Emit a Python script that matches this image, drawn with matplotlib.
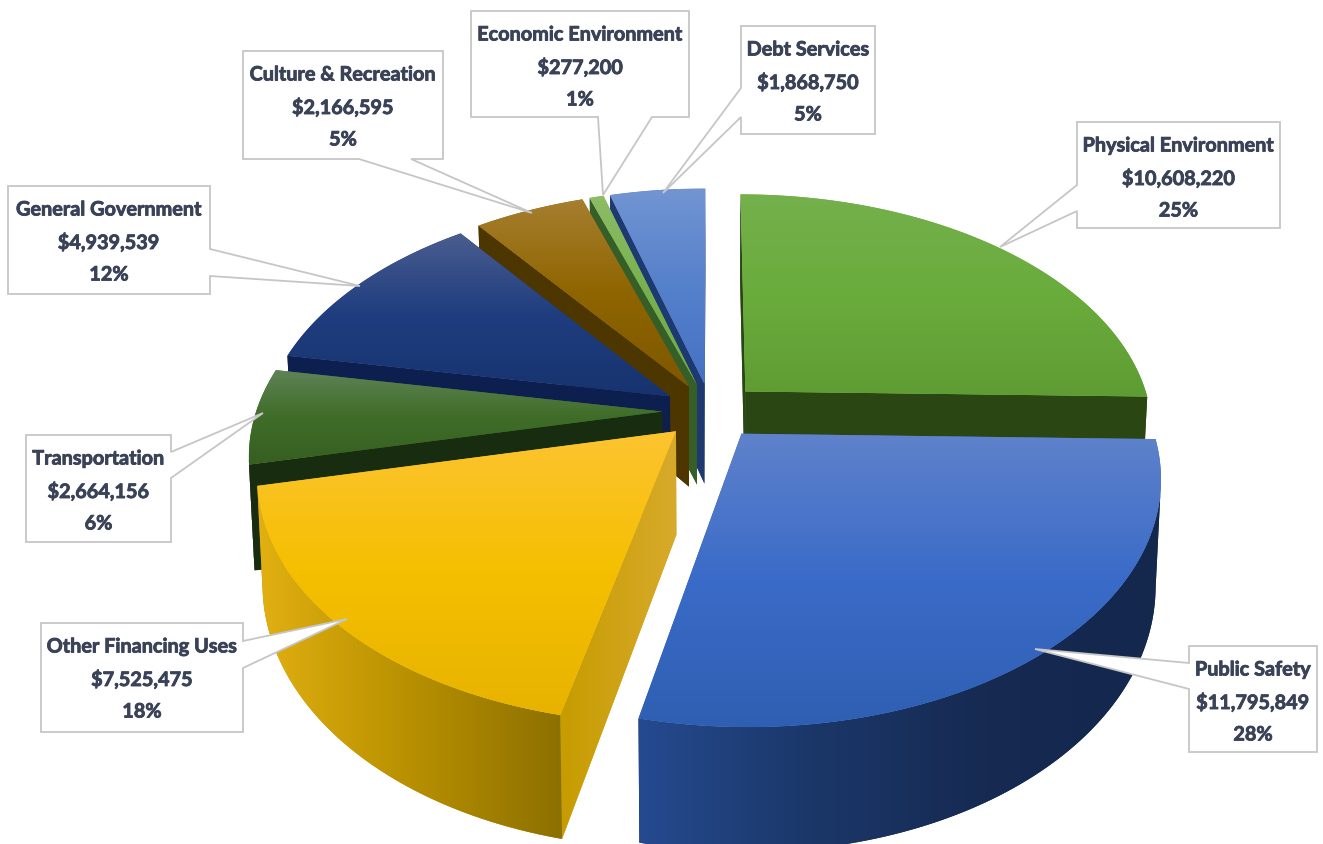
import numpy as np
import matplotlib
matplotlib.use("Agg")
import matplotlib.pyplot as plt
import matplotlib.patheffects as pe
from matplotlib.colors import LinearSegmentedColormap
from matplotlib.patches import Polygon

# Budget figures, clockwise from twelve o'clock
categories = ["Physical Environment", "Public Safety", "Other Financing Uses", "Transportation",
              "General Government", "Culture & Recreation", "Economic Environment", "Debt Services"]
amounts = [10608220, 11795849, 7525475, 2664156, 4939539, 2166595, 277200, 1868750]
percents = [25, 28, 18, 6, 12, 5, 1, 5]

# Surface colours per slice: top runs top to bottom, wall and cut run left to right
top_colors = [["#74b04c", "#6aac3c", "#5f9c34"], ["#5f82cb", "#3a6bc8", "#2f5fb2"],
              ["#fdc431", "#f5bf00", "#e8b300"], ["#5f8257", "#3f6d28", "#365f22"],
              ["#4a5d8f", "#1f3d7f", "#17336f"], ["#a67f30", "#8f6500", "#7e5800"],
              ["#8dbd66", "#78b04f", "#70ad47"], ["#7295d2", "#5580cb", "#4472c4"]]
wall_colors = [["#2a4613", "#2a4613"], ["#254a8f", "#1b3769", "#162a52", "#14274d"],
               ["#e2b012", "#b89000", "#8c7000"], ["#182d10", "#182d10"], ["#0d1f4f", "#0d1f4f"],
               ["#4d3600", "#4d3600"], ["#365f28", "#365f28"], ["#1e3a70", "#1e3a70"]]
cut_colors = [["#2a4613", "#2a4613"], ["#1d3a78", "#1d3a78"], ["#c69c00", "#d8aa2c"],
              ["#182d10", "#182d10"], ["#0d1f4f", "#0d1f4f"], ["#4d3600", "#4d3600"],
              ["#365f28", "#365f28"], ["#1e3a70", "#1e3a70"]]

# Callout boxes: (left, top, right, bottom), side, pointer base a, pointer base b, tip
callouts = [
    ((1077, 122, 1280, 228), "left", 185, 211, (1000, 247)),
    ((1189, 646, 1317, 752), "left", 663, 689, (1035, 649)),
    ((41, 623, 243, 732), "right", 641, 668, (347, 619)),
    ((26, 435, 171, 542), "right", 452, 478, (263, 413)),
    ((8, 186, 210, 294), "right", 249, 276, (360, 286)),
    ((243, 51, 443, 159), "bottom", 359, 411, (532, 213)),
    ((471, 11, 689, 117), "bottom", 598, 652, (603, 195)),
    ((741, 26, 875, 134), "left", 88, 117, (663, 193)),
]

# Perspective camera for the tilted pie
CX, CY = 711.0, 411.0
SCALE_X, SCALE_Y, LIFT = 406.0, 236.0, 102.0
PERSP = 0.167
EXPLODE = 0.12
NADIR = 0.012
CAMERA_Y = -1.0 / PERSP


def project(px, py, z):
    """Ground coordinates plus drop below the top face -> screen pixels."""
    w = 1.0 + PERSP * np.asarray(py)
    sx = SCALE_X * np.asarray(px) / w * (1.0 - NADIR * z)
    sy = -SCALE_Y * np.asarray(py) / w + LIFT * z / w
    return CX + sx, CY + sy


fig = plt.figure(figsize=(13.23, 8.44), dpi=100)
ax = fig.add_axes([0, 0, 1, 1])
ax.set_axis_off()

layer = [1.0]


def fill_ramp(outline, stops, vertical):
    """Fill a polygon with a linear colour ramp through a clipped image."""
    outline = np.asarray(outline)
    layer[0] += 1
    ax.add_patch(Polygon(outline, closed=True, facecolor=stops[len(stops) // 2],
                         edgecolor="none", zorder=layer[0]))
    ramp = LinearSegmentedColormap.from_list("ramp", stops)
    grid = np.linspace(0, 1, 256)
    grid = grid[:, None] if vertical else grid[None, :]
    image = ax.imshow(grid, cmap=ramp, vmin=0, vmax=1, aspect="auto", origin="upper",
                      extent=(outline[:, 0].min(), outline[:, 0].max(),
                              outline[:, 1].max(), outline[:, 1].min()),
                      interpolation="bilinear", zorder=layer[0] + 0.5)
    image.set_clip_path(Polygon(outline, closed=True, transform=ax.transData))


values = np.array(amounts, dtype=float)
edges = np.concatenate([[0.0], np.cumsum(values) / values.sum() * 2 * np.pi])
mids = (edges[:-1] + edges[1:]) / 2

# Paint from the far side of the pie to the near side
for i in np.argsort(-np.cos(mids)):
    a0, a1 = edges[i], edges[i + 1]
    ox, oy = EXPLODE * np.sin(mids[i]), EXPLODE * np.cos(mids[i])
    theta = np.linspace(a0, a1, max(12, int((a1 - a0) * 90)))
    rim_x, rim_y = ox + np.sin(theta), oy + np.cos(theta)
    apex_tx, apex_ty = project(ox, oy, 0.0)
    apex_bx, apex_by = project(ox, oy, 1.0)

    # Cut faces, when they turn towards the camera
    for angle, normal in ((a0, a0 - np.pi / 2), (a1, a1 + np.pi / 2)):
        if np.sin(normal) * (-ox) + np.cos(normal) * (CAMERA_Y - oy) <= 0:
            continue
        end_tx, end_ty = project(ox + np.sin(angle), oy + np.cos(angle), 0.0)
        end_bx, end_by = project(ox + np.sin(angle), oy + np.cos(angle), 1.0)
        fill_ramp([(apex_tx, apex_ty), (end_tx, end_ty), (end_bx, end_by), (apex_bx, apex_by)],
                  cut_colors[i], False)

    # Outer wall, only the stretch facing the camera
    facing = np.sin(theta) * (-rim_x) + np.cos(theta) * (CAMERA_Y - rim_y) > 0
    if facing.sum() >= 2:
        tx, ty = project(rim_x[facing], rim_y[facing], 0.0)
        bx, by = project(rim_x[facing], rim_y[facing], 1.0)
        fill_ramp(np.column_stack([np.r_[tx, bx[::-1]], np.r_[ty, by[::-1]]]), wall_colors[i], False)

    # Top face
    tx, ty = project(rim_x, rim_y, 0.0)
    fill_ramp(np.column_stack([np.r_[apex_tx, tx], np.r_[apex_ty, ty]]), top_colors[i], True)

# Callout boxes and their text
for name, amount, pct, (box, side, a, b, tip) in zip(categories, amounts, percents, callouts):
    x0, y0, x1, y1 = box
    if side == "left":
        pts = [(x0, y0), (x1, y0), (x1, y1), (x0, y1), (x0, b), tip, (x0, a)]
    elif side == "right":
        pts = [(x0, y0), (x1, y0), (x1, a), tip, (x1, b), (x1, y1), (x0, y1)]
    else:
        pts = [(x0, y0), (x1, y0), (x1, y1), (b, y1), tip, (a, y1), (x0, y1)]
    ax.add_patch(Polygon(pts, closed=True, facecolor="white", edgecolor="#c6c6c6",
                         linewidth=1.3, zorder=100))
    for line, offset in zip((name, f"${amount:,}", f"{pct}%"), (23.5, 56.5, 88.5)):
        ax.text((x0 + x1) / 2, y0 + offset, line, ha="center", va="center", family="Lato",
                fontweight="bold", fontsize=14.3, color="#3a4257", zorder=101,
                path_effects=[pe.withStroke(linewidth=0.6, foreground="#3a4257")])

ax.set_xlim(0, 1323)
ax.set_ylim(844, 0)
fig.savefig("out.png", dpi=100, facecolor="white")
